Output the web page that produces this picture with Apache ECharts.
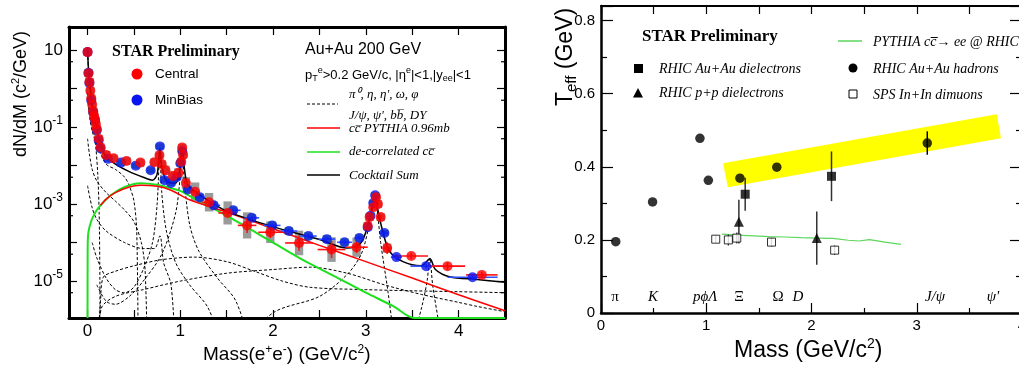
<!DOCTYPE html>
<html><head><meta charset="utf-8">
<script src="https://cdn.jsdelivr.net/npm/echarts@6/dist/echarts.min.js"></script>
<style>html,body{margin:0;padding:0;background:#fff}#c{width:1019px;height:372px}</style>
</head><body><div id="c"></div>
<script>
// ---------------- LEFT PANEL DATA (mass GeV/c^2, dN/dM) ----------------
const centralMass  = [0.00,0.01,0.02,0.03,0.04,0.05,0.06,0.07,0.08,0.09,0.10,0.12,0.14,0.20,0.28,0.42,0.57,0.72,0.775,0.80,0.84,0.92,0.98,1.01,1.02,1.03,1.06,1.16,1.31,1.51,1.72,1.97,2.28,2.63,2.90,3.02,3.04,3.08,3.11,3.13,3.16,3.23,3.49,3.88,4.25];
const centralYield = [8.9,2.5,1.5,0.89,0.56,0.38,0.26,0.20,0.16,0.12,0.089,0.050,0.030,0.019,0.0155,0.0132,0.012,0.0123,0.0186,0.011,0.0076,0.0054,0.0065,0.0126,0.0295,0.019,0.00355,0.0021,0.00112,5.9e-4,2.8e-4,1.86e-4,9.8e-5,6.6e-5,7.6e-5,2.7e-4,4.6e-4,8.3e-4,1.5e-3,1.0e-3,4.6e-4,7.2e-5,4.5e-5,2.45e-5,1.45e-5];
const centralXErr  = [0,0,0,0,0,0,0,0,0,0,0,0,0,0,0,0,0,0,0,0,0,0,0,0,0,0,0.02,0.05,0.075,0.1,0.1,0.13,0.15,0.15,0.12,0.01,0.01,0.01,0.01,0.01,0.01,0.05,0.18,0.19,0.17];
const centralStat  = [0,0,0,0,0,0,0,0,0,0,0,0,0,0,0,0,0,0,0,0,0,0,0,0,0,0,0.03,0.04,0.05,0.1,0.2,0.15,0.2,0.22,0.15,0.05,0.04,0.04,0.03,0.04,0.05,0.15,0.08,0.1,0.08];
const centralSys   = [0.1,0.1,0.1,0.1,0.1,0.1,0.1,0.1,0.1,0.1,0.1,0.1,0.1,0.1,0.1,0.1,0.1,0.1,0.1,0.1,0.12,0.12,0.12,0.1,0.1,0.1,0.15,0.24,0.24,0.3,0.34,0.28,0.32,0.32,0.25,0.1,0.1,0.1,0.1,0.1,0.1,0.12,0,0,0];

const minbiasMass  = [0.00,0.01,0.02,0.04,0.06,0.08,0.10,0.12,0.14,0.22,0.36,0.52,0.68,0.78,0.83,0.90,0.96,1.00,1.02,1.08,1.21,1.36,1.57,1.77,1.99,2.17,2.38,2.58,2.77,2.93,3.02,3.05,3.08,3.10,3.20,3.33,3.65,4.15];
const minbiasYield = [8.9,2.6,1.4,0.5,0.25,0.15,0.083,0.045,0.028,0.015,0.012,0.010,0.0076,0.0316,0.0042,0.00355,0.005,0.0115,0.024,0.0024,0.0015,9.3e-4,6.9e-4,4.4e-4,2.8e-4,2.0e-4,1.48e-4,1.23e-4,1.02e-4,1.32e-4,2.5e-4,5.0e-4,1.07e-3,1.7e-3,1.78e-4,4.2e-5,2.45e-5,1.26e-5];
const minbiasXErr  = [0,0,0,0,0,0,0,0,0,0,0,0,0,0,0,0,0,0,0,0.03,0.05,0.07,0.08,0.08,0.09,0.09,0.09,0.09,0.08,0.05,0.01,0.01,0.01,0.01,0.04,0.06,0.17,0.27];
const minbiasStat  = [0,0,0,0,0,0,0,0,0,0,0,0,0,0,0,0,0,0,0,0.02,0.02,0.03,0.03,0.04,0.04,0.05,0.05,0.05,0.05,0.05,0.03,0.03,0.02,0.02,0.05,0.08,0.06,0.06];
const minbiasSys   = [0.08,0.08,0.08,0.08,0.08,0.08,0.08,0.08,0.08,0.08,0.08,0.08,0.08,0.08,0.08,0.08,0.08,0.08,0.08,0.1,0.1,0.1,0.1,0.1,0.1,0.1,0.1,0.1,0.1,0.1,0.08,0.08,0.08,0.08,0.08,0,0,0];

// cocktail curves [mass, dN/dM]
const cocktailSum = [[0.0,11],[0.01,3.2],[0.03,1.0],[0.06,0.25],[0.1,0.089],[0.14,0.035],[0.2,0.017],[0.3,0.011],[0.45,7e-3],[0.6,5e-3],[0.7,4.2e-3],[0.75,6e-3],[0.78,0.028],[0.8,0.01],[0.85,4e-3],[0.95,3.5e-3],[1.0,0.01],[1.02,0.028],[1.04,0.01],[1.08,3.2e-3],[1.2,1.8e-3],[1.5,6.6e-4],[2.0,2.6e-4],[2.5,1.2e-4],[2.8,7.2e-5],[2.95,1e-4],[3.05,5e-4],[3.1,1.4e-3],[3.15,4e-4],[3.25,6.3e-5],[3.4,3.2e-5],[3.6,2.5e-5],[3.69,3.8e-5],[3.75,2e-5],[3.9,1.3e-5],[4.2,1.1e-5],[4.5,9.3e-6]];
const ccPythia = [[0.14,9.3e-4],[0.2,1.35e-3],[0.3,2.0e-3],[0.45,2.8e-3],[0.57,3.1e-3],[0.75,2.9e-3],[0.9,2.3e-3],[1.1,1.3e-3],[1.5,6.2e-4],[2.0,2.3e-4],[2.5,8.5e-5],[3.0,3.2e-5],[3.5,1.2e-5],[4.0,4.4e-6],[4.5,1.7e-6]];
const ccDecorrelated = [[0.0,1.1e-6],[0.001,5e-5],[0.005,1.5e-4],[0.02,2.5e-4],[0.05,4.2e-4],[0.1,7e-4],[0.14,9.3e-4],[0.25,1.7e-3],[0.4,2.8e-3],[0.57,3.5e-3],[0.75,3.2e-3],[0.9,2.6e-3],[1.0,2.2e-3],[1.2,1.2e-3],[1.5,5e-4],[2.0,1.0e-4],[2.3,3.8e-5],[2.7,1.2e-5],[3.0,5e-6],[3.3,2.2e-6],[3.52,1.1e-6],[4.5,1.1e-6]];
const pi0Dalitz = [[0.0,12],[0.01,3],[0.03,0.8],[0.05,0.3],[0.07,0.1],[0.09,0.03],[0.11,6e-3],[0.125,6e-4],[0.133,1e-5],[0.135,1e-7]];
const etaDalitz = [[0.0,0.8],[0.02,0.2],[0.05,0.08],[0.1,0.035],[0.2,0.011],[0.3,8e-3],[0.4,5e-3],[0.45,3e-3],[0.5,1.2e-3],[0.53,2e-4],[0.547,1e-7]];
const omegaDalitz = [[0.0,0.05],[0.02,0.02],[0.05,8e-3],[0.1,4e-3],[0.2,2e-3],[0.3,1.2e-3],[0.4,7e-4],[0.5,3.5e-4],[0.58,1e-4],[0.62,2e-5],[0.645,1e-7]];
const etapDalitz = [[0.0,3e-3],[0.05,8e-4],[0.1,4e-4],[0.2,2e-4],[0.4,1e-4],[0.6,7e-5],[0.72,7e-5],[0.78,1.5e-4],[0.82,3e-5],[0.9,8e-6],[0.95,1e-7]];
const omegaEE = [[0.05,1e-4],[0.1,4e-5],[0.2,1.2e-5],[0.3,6e-6],[0.4,5e-6],[0.5,7e-6],[0.6,2e-5],[0.7,1e-4],[0.75,1e-3],[0.78,0.025],[0.8,2e-3],[0.85,2e-4],[0.95,3e-5],[1.1,8e-6],[1.3,2e-6],[1.5,1e-7]];
const phiEE = [[0.1,8e-6],[0.2,3e-6],[0.3,2.5e-6],[0.45,4e-6],[0.6,1e-5],[0.8,5e-5],[0.95,6e-4],[1.0,6e-3],[1.02,0.028],[1.04,5e-3],[1.1,3e-4],[1.2,6e-5],[1.4,1.2e-5],[1.6,3e-6],[1.8,1e-7]];
const jpsiEE = [[1.5,1e-7],[2.0,1.5e-6],[2.5,4e-6],[2.8,1.5e-5],[2.95,5e-5],[3.03,2.5e-4],[3.07,9e-4],[3.1,1.4e-3],[3.12,8e-4],[3.16,1e-4],[3.24,5e-6],[3.33,1e-7]];
const psi2sEE = [[3.45,1e-7],[3.6,2e-6],[3.66,1e-5],[3.69,4e-5],[3.72,8e-6],[3.78,1e-6],[3.85,1e-7]];
const bbbar = [[0.1,1e-7],[0.14,3e-6],[0.17,1.26e-5],[0.3,1.8e-5],[0.5,2.5e-5],[0.8,3.6e-5],[1.15,4.2e-5],[1.5,3.2e-5],[1.8,1.8e-5],[2.1,1.0e-5],[2.4,6.9e-6],[3.0,6.0e-6],[3.5,5.6e-6],[4.0,5.3e-6],[4.5,5.0e-6]];
const drellYan = [[0.1,1e-7],[0.15,2e-6],[0.3,4e-6],[0.6,6e-6],[1.0,1e-5],[1.5,1.6e-5],[2.0,2.0e-5],[2.4,2.3e-5],[2.8,1.6e-5],[3.2,8e-6],[3.6,4.5e-6],[4.0,2.8e-6],[4.2,2.2e-6],[4.5,1.6e-6]];
const logMinorTicks = [5,0.5,0.05,5e-3,5e-4,5e-5,5e-6];

// ---------------- RIGHT PANEL DATA (mass GeV/c^2, T_eff GeV) ----------------
const hadronMass = [0.14,0.49,0.94,1.02,1.32,1.67,3.10];
const hadronT    = [0.195,0.304,0.478,0.363,0.369,0.399,0.465];
const hadronErr  = [0,0,0,0,0,0,0.032];
const aaDielMass = [1.37,2.19];
const aaDielT    = [0.325,0.374];
const aaDielErr  = [0.045,0.068];
const ppDielMass = [1.31,2.05];
const ppDielT    = [0.250,0.205];
const ppDielErr  = [0.060,0.073];
const spsMass = [1.09,1.21,1.29,1.62,2.22];
const spsT    = [0.202,0.200,0.205,0.194,0.172];
const spsErr  = [0.010,0.015,0.015,0.012,0.013];
const pythiaMass = [1.15,1.3,1.45,1.6,1.75,1.9,2.05,2.2,2.35,2.45,2.55,2.7,2.85];
const pythiaT    = [0.216,0.213,0.211,0.209,0.208,0.206,0.205,0.204,0.199,0.197,0.201,0.194,0.188];
const bandCorners = [[1.16,0.410],[3.76,0.544],[3.80,0.478],[1.205,0.344]];
const leftXTicks = [0,1,2,3,4];
const leftYLabels = {'1':'10','-1':'10^-1','-3':'10^-3','-5':'10^-5'};

// ---------------- helpers ----------------
const SANS = 'Liberation Sans, Arial, sans-serif';
const SERIF = 'Liberation Serif, Times New Roman, serif';
function pts(xs, ys){ return xs.map((x,i)=>[x, ys[i]]); }
function errBars(xs, ys, xe, ye, color, lw, isLog){
  return {
    type:'custom', xAxisIndex: isLog?0:2, yAxisIndex: isLog?0:2, clip:true, z:4,
    data: xs.map((x,i)=>[x, ys[i], xe?xe[i]:0, ye[i]]),
    encode:{x:0,y:1},
    renderItem(params, api){
      const x=api.value(0), y=api.value(1), dx=api.value(2), dy=api.value(3);
      const ch=[];
      if (dx>0){ const a=api.coord([x-dx,y]), b=api.coord([x+dx,y]);
        ch.push({type:'line',shape:{x1:a[0],y1:a[1],x2:b[0],y2:b[1]},style:{stroke:color,lineWidth:lw}}); }
      if (dy>0){ const hi=isLog? y*Math.pow(10,dy): y+dy, lo=isLog? y/Math.pow(10,dy): y-dy;
        const a=api.coord([x,hi]), b=api.coord([x,lo]);
        ch.push({type:'line',shape:{x1:a[0],y1:a[1],x2:b[0],y2:b[1]},style:{stroke:color,lineWidth:lw}}); }
      return {type:'group',children:ch};
    }
  };
}
function sysBoxes(xs, ys, sys, color, halfW){
  return {
    type:'custom', xAxisIndex:0, yAxisIndex:0, clip:true, z:2,
    data: xs.map((x,i)=>[x, ys[i], sys[i]]), encode:{x:0,y:1},
    renderItem(params, api){
      const x=api.value(0), y=api.value(1), s=api.value(2);
      if (!(s>0)) return {type:'group',children:[]};
      const f=Math.pow(10,s);
      const a=api.coord([x-halfW, y*f]), b=api.coord([x+halfW, y/f]);
      return {type:'rect',shape:{x:a[0],y:a[1],width:b[0]-a[0],height:b[1]-a[1]},style:{fill:color}};
    }
  };
}
function curve(data, color, width, type, z){
  return {type:'line', xAxisIndex:0, yAxisIndex:0, data, showSymbol:false, symbol:'none', smooth:0.3, clip:true, z:z||3,
    lineStyle:{color, width, type: type||'solid'}, silent:true, animation:false};
}

const chart = echarts.init(document.getElementById('c'), null, {renderer:'canvas'});
const option = {
  animation:false,
  backgroundColor:'#fff',
  grid:[
    {left:69, top:27, width:436, height:291, outerBoundsMode:'none', containLabel:false},
    {left:601, top:6, width:421, height:307, outerBoundsMode:'none', containLabel:false}
  ],
  xAxis:[
    {gridIndex:0, type:'value', min:-0.2, max:4.5, splitNumber:10, position:'bottom',
     axisLine:{onZero:false, lineStyle:{color:'#000', width:3}},
     axisTick:{inside:true, length:8, lineStyle:{color:'#000', width:1.2}},
     axisLabel:{color:'#000', fontSize:17, fontFamily:SANS, margin:5, showMinLabel:false, showMaxLabel:false,
       formatter:v=> leftXTicks.indexOf(v)>=0 ? String(v) : ''},
     splitLine:{show:false}},
    {gridIndex:0, type:'value', min:-0.2, max:4.5, splitNumber:10, position:'top',
     axisLine:{onZero:false, lineStyle:{color:'#000', width:3}},
     axisTick:{inside:true, length:8, lineStyle:{color:'#000', width:1.2}},
     axisLabel:{show:false}, splitLine:{show:false}},
    {gridIndex:1, type:'value', min:0, max:4, interval:1, position:'bottom',
     axisLine:{onZero:false, lineStyle:{color:'#000', width:2.5}},
     axisTick:{inside:true, length:10, lineStyle:{color:'#000', width:1.2}},
     minorTick:{show:true, splitNumber:2, length:5, lineStyle:{color:'#000', width:1.2}},
     axisLabel:{color:'#000', fontSize:15, fontFamily:SANS, margin:5},
     splitLine:{show:false}},
    {gridIndex:1, type:'value', min:0, max:4, interval:0.5, position:'top',
     axisLine:{onZero:false, lineStyle:{color:'#000', width:2}},
     axisTick:{inside:true, length:8, lineStyle:{color:'#000', width:1.2}},
     axisLabel:{show:false}, splitLine:{show:false}}
  ],
  yAxis:[
    {gridIndex:0, type:'log', logBase:10, min:1.1e-6, max:40, position:'left',
     axisLine:{onZero:false, lineStyle:{color:'#000', width:3}},
     axisTick:{inside:true, length:8, lineStyle:{color:'#000', width:1.2}},
     axisLabel:{color:'#000', fontFamily:SANS, margin:6, showMinLabel:false, showMaxLabel:false,
       formatter:v=>{ const e=Math.round(Math.log10(v)); if (Math.abs(Math.log10(v)-e)>1e-6) return '';
         const t=leftYLabels[String(e)]; if(!t) return ''; const p=t.split('^'); return p.length>1? '{b|'+p[0]+'}{s|'+p[1]+'}' : '{b|'+p[0]+'}'; },
       rich:{b:{fontSize:17,fontFamily:SANS,color:'#000'}, s:{fontSize:12,fontFamily:SANS,color:'#000',padding:[0,0,12,0]}}},
     splitLine:{show:false}},
    {gridIndex:0, type:'log', logBase:10, min:1.1e-6, max:40, position:'right',
     axisLine:{onZero:false, lineStyle:{color:'#000', width:3}},
     axisTick:{inside:true, length:8, lineStyle:{color:'#000', width:1.2}},
     axisLabel:{show:false}, splitLine:{show:false}},
    {gridIndex:1, type:'value', min:0, max:0.84, interval:0.2, position:'left',
     axisLine:{onZero:false, lineStyle:{color:'#000', width:2.5}},
     axisTick:{inside:true, length:12, lineStyle:{color:'#000', width:1.2}},
     minorTick:{show:true, splitNumber:2, length:6, lineStyle:{color:'#000', width:1.2}},
     axisLabel:{color:'#000', fontSize:15, fontFamily:SANS, margin:6, showMaxLabel:false,
       formatter:v=> v===0?'0':v.toFixed(1)},
     splitLine:{show:false}},
    {gridIndex:1, type:'value', min:0, max:0.84, interval:0.2, position:'right',
     axisLine:{onZero:false, lineStyle:{color:'#000', width:2}},
     axisTick:{inside:true, length:12, lineStyle:{color:'#000', width:1.2}},
     minorTick:{show:true, splitNumber:2, length:6, lineStyle:{color:'#000', width:1.2}},
     axisLabel:{show:false}, splitLine:{show:false}}
  ],
  series:[
    {type:'custom', xAxisIndex:0, yAxisIndex:0, z:10, clip:false,
     data: logMinorTicks.map(v=>[-0.2, v]), encode:{x:0,y:1},
     renderItem(params, api){
       const a=api.coord([-0.2, api.value(1)]), b=api.coord([4.5, api.value(1)]);
       return {type:'group',children:[
         {type:'line',shape:{x1:a[0],y1:a[1],x2:a[0]+4,y2:a[1]},style:{stroke:'#000',lineWidth:1.2}},
         {type:'line',shape:{x1:b[0]-4,y1:b[1],x2:b[0],y2:b[1]},style:{stroke:'#000',lineWidth:1.2}}]};
     }},
    sysBoxes(centralMass, centralYield, centralSys, '#9a9a9a', 0.045),
    sysBoxes(minbiasMass, minbiasYield, minbiasSys, '#5ccc5c', 0.045),
    curve(pi0Dalitz,'#000',1,[3,2]),
    curve(etaDalitz,'#000',1,[3,2]),
    curve(omegaDalitz,'#000',1,[3,2]),
    curve(etapDalitz,'#000',1,[3,2]),
    curve(omegaEE,'#000',1,[3,2]),
    curve(phiEE,'#000',1,[3,2]),
    curve(jpsiEE,'#000',1,[3,2]),
    curve(psi2sEE,'#000',1,[3,2]),
    curve(bbbar,'#000',1,[3,2]),
    curve(drellYan,'#000',1,[3,2]),
    curve(ccDecorrelated,'#1ee01e',2),
    curve(ccPythia,'#ff0000',1.5),
    curve(cocktailSum,'#000',1.5,'solid',3),
    errBars(minbiasMass, minbiasYield, minbiasXErr, minbiasStat, '#3050ff', 1.6, true),
    {type:'scatter', xAxisIndex:0, yAxisIndex:0, data:pts(minbiasMass,minbiasYield), symbol:'circle', symbolSize:10, z:5,
     itemStyle:{color:'#0a14f0'}},
    errBars(centralMass, centralYield, centralXErr, centralStat, '#ff1010', 1.6, true),
    {type:'scatter', xAxisIndex:0, yAxisIndex:0, data:pts(centralMass,centralYield), symbol:'circle', symbolSize:10, z:6,
     itemStyle:{color:'#ff0000'}},

    // ---- right panel ----
    {type:'custom', xAxisIndex:2, yAxisIndex:2, z:1, data: bandCorners, encode:{x:0,y:1},
     renderItem(params, api){
       if (params.dataIndex!==0) return {type:'group',children:[]};
       const p = bandCorners.map(c=>api.coord(c));
       return {type:'polygon', shape:{points:p}, style:{fill:'#ffff00'}};
     }},
    {type:'line', xAxisIndex:2, yAxisIndex:2, data:pts(pythiaMass,pythiaT), showSymbol:false, symbol:'none', z:2,
     lineStyle:{color:'#5cd65c', width:1.2}},
    errBars(hadronMass, hadronT, null, hadronErr, '#000', 1.5, false),
    errBars(aaDielMass, aaDielT, null, aaDielErr, '#333', 1.5, false),
    errBars(ppDielMass, ppDielT, null, ppDielErr, '#333', 1.5, false),
    errBars(spsMass, spsT, null, spsErr, '#333', 1.2, false),
    {type:'scatter', xAxisIndex:2, yAxisIndex:2, data:pts(hadronMass,hadronT), symbol:'circle', symbolSize:9.5, z:5, itemStyle:{color:'#000'}},
    {type:'scatter', xAxisIndex:2, yAxisIndex:2, data:pts(aaDielMass,aaDielT), symbol:'rect', symbolSize:9, z:5, itemStyle:{color:'#000'}},
    {type:'scatter', xAxisIndex:2, yAxisIndex:2, data:pts(ppDielMass,ppDielT), symbol:'triangle', symbolSize:10, z:5, itemStyle:{color:'#000'}},
    {type:'scatter', xAxisIndex:2, yAxisIndex:2, data:pts(spsMass,spsT), symbol:'rect', symbolSize:8, z:5, itemStyle:{color:'#fff', borderColor:'#000', borderWidth:1}}
  ],
  graphic:[]
};

// ---------- texts & legend keys ----------
const G = [];
function txt(x,y,text,font,opts){ const o=Object.assign({type:'text', x, y, z:100, style:Object.assign({text, font, fill:'#000', textAlign:'left', textVerticalAlign:'middle', align:'left', verticalAlign:'middle'}, opts&&opts.style||{})}, opts&&opts.el||{}); G.push(o); }
G.push({type:'text', x:21, y:94, rotation:Math.PI/2, z:100, style:{text:'{a|dN/dM (c}{s|2}{a|/GeV)}', align:'center', verticalAlign:'middle', textAlign:'center', textVerticalAlign:'middle',
  rich:{a:{fontSize:18,fontFamily:SANS,color:'#000'}, s:{fontSize:11, fontFamily:SANS, color:'#000', padding:[0,0,10,0]}}}});
G.push({type:'text', x:203, y:355, z:100, style:{text:'{a|Mass(e}{s|+}{a|e}{s|-}{a|) (GeV/c}{s|2}{a|)}', align:'left', verticalAlign:'middle', textAlign:'left', textVerticalAlign:'middle',
  rich:{a:{fontSize:19,fontFamily:SANS,color:'#000'}, s:{fontSize:12, fontFamily:SANS, color:'#000', padding:[0,0,10,0]}}}});
txt(112,52,'STAR Preliminary','bold 16px '+SERIF);
G.push({type:'circle', shape:{cx:137,cy:74,r:5.5}, style:{fill:'#ff0000'}, z:100});
txt(155,74,'Central','13.5px '+SANS);
G.push({type:'circle', shape:{cx:137,cy:100,r:5.5}, style:{fill:'#0a14f0'}, z:100});
txt(155,100,'MinBias','13.5px '+SANS);
txt(305,50,'Au+Au 200 GeV','16px '+SANS);
G.push({type:'text', x:305, y:75, z:100, style:{text:'{a|p}{u|T}{s|e}{a|>0.2 GeV/c, |η}{s|e}{a||<1,|y}{u|ee}{a||<1}', align:'left', verticalAlign:'middle', textAlign:'left', textVerticalAlign:'middle',
  rich:{a:{fontSize:13,fontFamily:SANS,color:'#000'}, s:{fontSize:9,fontFamily:SANS,color:'#000',padding:[0,0,9,0]}, u:{fontSize:9,fontFamily:SANS,color:'#000',padding:[8,0,0,0]}}}});
G.push({type:'line', shape:{x1:307,y1:104,x2:338,y2:104}, style:{stroke:'#000', lineWidth:1, lineDash:[3,2]}, z:100});
txt(349,95,'π⁰, η, η\', ω, φ','italic 13px '+SERIF);
txt(349,116,'J/ψ, ψ\', bb\u0305, DY','italic 13px '+SERIF);
G.push({type:'line', shape:{x1:307,y1:128,x2:340,y2:128}, style:{stroke:'#ff0000', lineWidth:1.5}, z:100});
txt(349,129,'cc\u0305 PYTHIA 0.96mb','italic 13px '+SERIF);
G.push({type:'line', shape:{x1:307,y1:152,x2:340,y2:152}, style:{stroke:'#1ee01e', lineWidth:1.5}, z:100});
txt(349,152,'de-correlated cc\u0305','italic 13px '+SERIF);
G.push({type:'line', shape:{x1:307,y1:175,x2:340,y2:175}, style:{stroke:'#000', lineWidth:1.5}, z:100});
txt(349,176,'Cocktail Sum','italic 13px '+SERIF);

G.push({type:'text', x:566, y:57, rotation:Math.PI/2, z:100, style:{text:'{a|T}{u|eff}{a| (GeV)}', align:'center', verticalAlign:'middle', textAlign:'center', textVerticalAlign:'middle',
  rich:{a:{fontSize:23,fontFamily:SANS,color:'#000'}, u:{fontSize:15,fontFamily:SANS,color:'#000',padding:[11,0,0,0]}}}});
G.push({type:'text', x:734, y:351, z:100, style:{text:'{a|Mass (GeV/c}{s|2}{a|)}', align:'left', verticalAlign:'middle', textAlign:'left', textVerticalAlign:'middle',
  rich:{a:{fontSize:23,fontFamily:SANS,color:'#000'}, s:{fontSize:14,fontFamily:SANS,color:'#000',padding:[0,0,13,0]}}}});
txt(642,37,'STAR Preliminary','bold 17px '+SERIF);
G.push({type:'rect', shape:{x:634,y:64,width:9,height:9}, style:{fill:'#000'}, z:100});
txt(659,69,'RHIC Au+Au dielectrons','italic 14px '+SERIF);
G.push({type:'polygon', shape:{points:[[638,88],[633,97.5],[643,97.5]]}, style:{fill:'#000'}, z:100});
txt(659,93,'RHIC p+p dielectrons','italic 14px '+SERIF);
G.push({type:'line', shape:{x1:838,y1:41,x2:862,y2:41}, style:{stroke:'#5cd65c', lineWidth:1.5}, z:100});
txt(873,42,'PYTHIA cc\u0305→ ee @ RHIC','italic 14px '+SERIF);
G.push({type:'circle', shape:{cx:853,cy:68,r:4.5}, style:{fill:'#000'}, z:100});
txt(873,69,'RHIC Au+Au hadrons','italic 14px '+SERIF);
G.push({type:'rect', shape:{x:849,y:90,width:8,height:8}, style:{fill:'#fff', stroke:'#000', lineWidth:1}, z:100});
txt(873,95,'SPS In+In dimuons','italic 14px '+SERIF);
txt(615,297,'π','15px '+SERIF,{style:{textAlign:'center',align:'center'}});
txt(653,297,'K','italic 15px '+SERIF,{style:{textAlign:'center',align:'center'}});
txt(693,297,'pϕΛ','italic 15px '+SERIF);
txt(739,297,'Ξ','15px '+SERIF,{style:{textAlign:'center',align:'center'}});
txt(778,297,'Ω','15px '+SERIF,{style:{textAlign:'center',align:'center'}});
txt(798,297,'D','italic 15px '+SERIF,{style:{textAlign:'center',align:'center'}});
txt(935,297,'J/ψ','italic 15px '+SERIF,{style:{textAlign:'center',align:'center'}});
txt(993,297,'ψ\'','italic 15px '+SERIF,{style:{textAlign:'center',align:'center'}});

option.graphic = G;
chart.setOption(option);
</script></body></html>
